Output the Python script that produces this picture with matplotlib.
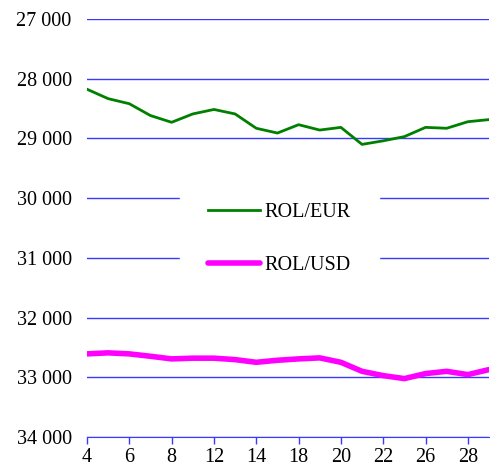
import matplotlib.pyplot as plt
from matplotlib.ticker import FuncFormatter

plt.rcParams['font.family'] = ['Liberation Serif', 'DejaVu Serif']

# trading days of the month
days = [4, 5, 6, 7, 8, 11, 12, 13, 14, 15, 18, 19, 20, 21, 22, 25, 26, 27, 28, 29]
rol_eur = [28176, 28334, 28419, 28617, 28730, 28590, 28515, 28590, 28830, 28910,
           28770, 28860, 28815, 29100, 29040, 28970, 28815, 28830, 28720, 28685]
rol_usd = [32608, 32591, 32608, 32648, 32692, 32680, 32680, 32704, 32749, 32715,
           32692, 32675, 32749, 32900, 32972, 33022, 32938, 32900, 32955, 32871]
y_ticks = [27000, 28000, 29000, 30000, 31000, 32000, 33000, 34000]

grid_blue = '#3a3aff'

fig = plt.figure(figsize=(4.99, 4.70), dpi=100)
ax = fig.add_axes([0.1743, 0.0702, 0.8057, 0.8894])

x = list(range(len(days)))
ax.plot(x, rol_eur, color='#008000', lw=2, label='ROL/EUR', zorder=3)
ax.plot(x, rol_usd, color='#ff00ff', lw=4, label='ROL/USD', zorder=3,
        solid_capstyle='round')

ax.set_xlim(0, len(days) - 1)
ax.set_ylim(34000, 27000)
ax.set_yticks(y_ticks)
ax.yaxis.set_major_formatter(FuncFormatter(lambda v, p: f"{int(v):,}".replace(',', ' ')))
ax.set_xticks(x[::2])
ax.set_xticklabels([str(d) for d in days[::2]])

for v in y_ticks:
    ax.axhline(v, color=grid_blue, lw=1, zorder=1)

for s in ['top', 'right', 'left']:
    ax.spines[s].set_visible(False)
ax.spines['bottom'].set_color(grid_blue)
ax.tick_params(axis='y', length=0, pad=11, labelsize=14.5)
ax.tick_params(axis='x', color=grid_blue, length=5, width=1, labelsize=14.5, pad=3)

leg = ax.legend(loc='center', bbox_to_anchor=(0.478, 0.474), frameon=True,
                fontsize=14.5, handlelength=2.6, handletextpad=0.2,
                labelspacing=1.65, borderpad=1.4, fancybox=False)
leg.get_frame().set_edgecolor('white')
leg.get_frame().set_facecolor('white')
leg.get_frame().set_alpha(1)
leg.set_zorder(5)

fig.savefig('out.png', dpi=100)
